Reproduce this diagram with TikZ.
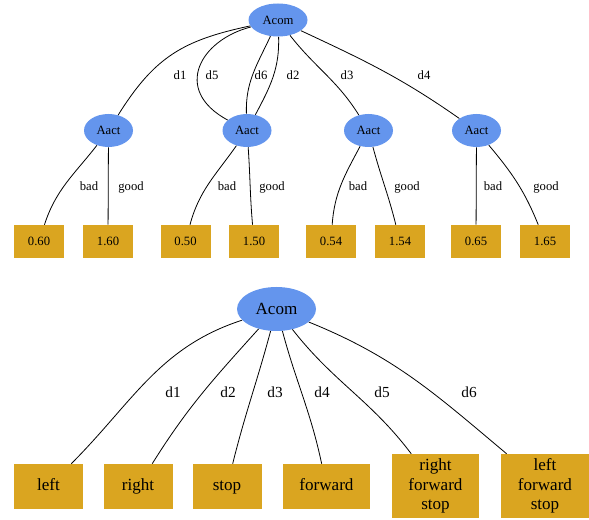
\documentclass[tikz,border=0pt]{standalone}
\usepackage{fontspec}
\setmainfont{Liberation Serif}
\usetikzlibrary{shapes.geometric}

\definecolor{acomblue}{HTML}{6495ED}
\definecolor{leafgold}{HTML}{DAA520}

\begin{document}
\begin{tikzpicture}[
    x=0.75pt, y=0.75pt,
    smallfont/.style={font=\fontsize{9.5}{11}\selectfont},
    bigfont/.style={font=\fontsize{12.8}{14.6}\selectfont},
    agent/.style={ellipse, fill=acomblue, inner sep=0pt,
        minimum width=36.75pt, minimum height=24.75pt, smallfont},
    payoff/.style={rectangle, fill=leafgold, inner sep=0pt,
        text height=1.6ex, text depth=0.2ex,
        minimum width=37.5pt, minimum height=24.75pt, smallfont},
    bigagent/.style={ellipse, fill=acomblue, inner sep=0pt,
        minimum width=59.25pt, minimum height=33pt, bigfont},
    actionbox/.style={rectangle, fill=leafgold, inner sep=0pt, align=center,
        minimum width=51.75pt, minimum height=33.75pt, bigfont},
    action/.style={actionbox, text height=1.7ex, text depth=0.5ex},
    multiaction/.style={actionbox, minimum width=65.25pt, minimum height=48pt},
    elabel/.style={inner sep=1pt, text height=1.6ex, text depth=0.5ex, smallfont},
    bigelabel/.style={inner sep=1pt, font=\fontsize{11.5}{13}\selectfont},
    link/.style={draw, line width=0.6pt},
]
\useasboundingbox (0,0) rectangle (589,-520);

% ===== TOP: game tree =====
% Root
\node[agent, minimum width=44.25pt] (acom) at (278,-20) {Acom};

% Level 1
\node[agent] (act1) at (108.5,-130.5) {Aact};
\node[agent] (act2) at (247,-130.5) {Aact};
\node[agent] (act3) at (368.5,-130.5) {Aact};
\node[agent] (act4) at (476.5,-130.5) {Aact};

% Level 2 (payoffs)
\node[payoff] (p1bad)  at (39,-241.5)  {0.60};
\node[payoff] (p1good) at (108,-241.5) {1.60};
\node[payoff] (p2bad)  at (185.5,-241.5) {0.50};
\node[payoff] (p2good) at (254,-241.5) {1.50};
\node[payoff] (p3bad)  at (331,-241.5) {0.54};
\node[payoff] (p3good) at (400,-241.5) {1.54};
\node[payoff] (p4bad)  at (476,-241.5) {0.65};
\node[payoff] (p4good) at (545,-241.5) {1.65};

% Tree edges
\draw[link] (acom) to[out=192, in=58, looseness=1.1] (act1);
\draw[link] (acom) .. controls (200,-40) and (172,-90) .. (act2);
\draw[link] (acom) to[out=245, in=92] (act2);
\draw[link] (acom) to[out=272, in=62] (act2);
\draw[link] (acom) to[out=-52, in=122] (act3);
\draw[link] (acom) to[out=-25, in=145] (act4);

\draw[link] (act1) to[out=232, in=72] (p1bad);
\draw[link] (act1) -- (p1good);
\draw[link] (act2) to[out=235, in=75] (p2bad);
\draw[link] (act2) to[out=-86, in=95] (p2good);
\draw[link] (act3) to[out=242, in=86] (p3bad);
\draw[link] (act3) to[out=-75, in=104] (p3good);
\draw[link] (act4) -- (p4bad);
\draw[link] (act4) to[out=-50, in=112] (p4good);

% Edge labels
\node[elabel] (ld1) at (180,-76) {d1};
\node[elabel] (ld5) at (212,-76) {d5};
\node[elabel] (ld6) at (261,-76) {d6};
\node[elabel] (ld2) at (293,-76) {d2};
\node[elabel] (ld3) at (347,-76) {d3};
\node[elabel] (ld4) at (424,-76) {d4};

\node[elabel] (lb1) at (89,-187)  {bad};
\node[elabel] (lg1) at (131,-187) {good};
\node[elabel] (lb2) at (227,-187) {bad};
\node[elabel] (lg2) at (272,-187) {good};
\node[elabel] (lb3) at (358,-187) {bad};
\node[elabel] (lg3) at (407,-187) {good};
\node[elabel] (lb4) at (493,-187) {bad};
\node[elabel] (lg4) at (546,-187) {good};

% ===== BOTTOM: command choices =====
\node[bigagent] (root) at (276.5,-309) {Acom};

\node[action] (left)  at (48.5,-486.5) {left};
\node[action] (right) at (138,-486.5)  {right};
\node[action] (stop)  at (227,-486.5)  {stop};
\node[action, minimum width=65.25pt] (fwd) at (326.5,-486.5) {forward};
\node[multiaction] (rfs) at (435.5,-486) {right\\forward\\stop};
\node[multiaction, minimum width=66pt] (lfs) at (545,-486) {left\\forward\\stop};

\draw[link] (root) to[out=198, in=45] (left);
\draw[link] (root) to[out=228, in=58] (right);
\draw[link] (root) to[out=255, in=76] (stop);
\draw[link] (root) to[out=-75, in=102] (fwd);
\draw[link] (root) to[out=-52, in=127] (rfs);
\draw[link] (root) to[out=-22, in=140] (lfs);

\node[bigelabel] (bd1) at (173,-392) {d1};
\node[bigelabel] (bd2) at (228,-392) {d2};
\node[bigelabel] (bd3) at (275,-392) {d3};
\node[bigelabel] (bd4) at (322,-392) {d4};
\node[bigelabel] (bd5) at (382,-392) {d5};
\node[bigelabel] (bd6) at (469,-392) {d6};

\end{tikzpicture}
\end{document}
